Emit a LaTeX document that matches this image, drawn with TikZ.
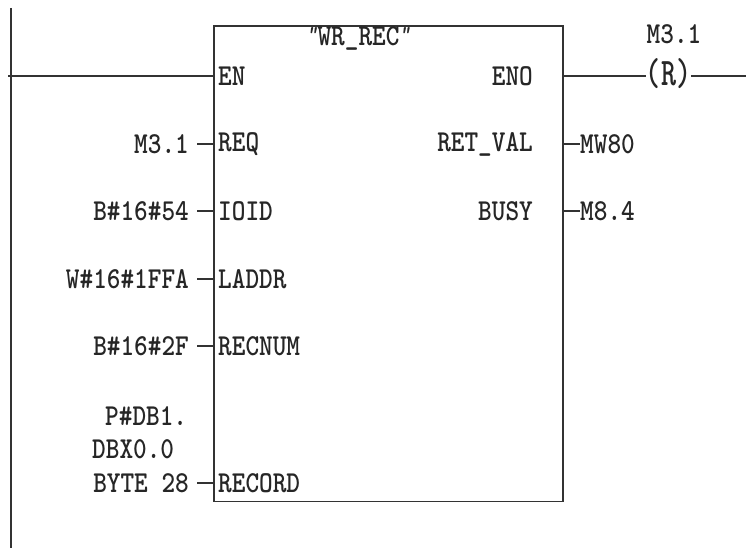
\documentclass[tikz,border=0pt]{standalone}
\usepackage{graphicx}
\newcommand{\tall}[1]{\scalebox{1}[1.17]{#1}}
\begin{document}
\begin{tikzpicture}[
        x=1pt, y=-1pt,
        wire/.style={line width=1.7pt, draw=black!80},
        lbl/.style={font=\ttfamily\bfseries\fontsize{26}{26}\selectfont, text=black!85, inner sep=0pt},
        inval/.style={lbl, anchor=east, inner xsep=8pt},
        pinin/.style={lbl, anchor=west, inner xsep=5pt},
        pinout/.style={lbl, anchor=east, inner xsep=29pt},
        outval/.style={lbl, anchor=west}
      ]
      \useasboundingbox (0,0) rectangle (746,548);

      \node[wire, draw, minimum width=349pt, minimum height=475pt, inner sep=0pt, anchor=north west] (wrrec) at (213,25.5) {};
      \node[lbl] (title) at (358.5,38) {\raisebox{5pt}{\fontsize{21}{21}\selectfont\itshape"}\tall{WR\_REC}\raisebox{5pt}{\fontsize{21}{21}\selectfont\itshape"}};

      \coordinate (railtop) at (10.5,8);
      \coordinate (railbot) at (10.5,548);
      \coordinate (enstart) at (8,76);
      \coordinate (linkend) at (746,76);

      \node[pinin] (en)     at (213, 76) {\tall{EN}};
      \node[pinin] (req)    at (213,144) {\tall{REQ}};
      \node[pinin] (ioid)   at (213,211) {\tall{IOID}};
      \node[pinin] (laddr)  at (213,279) {\tall{LADDR}};
      \node[pinin] (recnum) at (213,346) {\tall{RECNUM}};
      \node[pinin] (record) at (213,483) {\tall{RECORD}};

      \node[pinout] (eno)    at (562, 76) {\tall{ENO}};
      \node[pinout] (retval) at (562,144) {\tall{RET\_VAL}};
      \node[pinout] (busy)   at (562,211) {\tall{BUSY}};

      \node[inval] (reqval)    at (197,144) {\tall{M3.1}};
      \node[inval] (ioidval)   at (197,211) {\tall{B\#16\#54}};
      \node[inval] (laddrval)  at (197,279) {\tall{W\#16\#1FFA}};
      \node[inval] (recnumval) at (197,346) {\tall{B\#16\#2F}};
      \node[inval] (recordval) at (197,483) {\tall{BYTE 28}};
      \node[lbl, anchor=west] (recordtop) at (105,416) {\tall{P\#DB1.}};
      \node[lbl, anchor=west] (recordmid) at ( 92,449) {\tall{DBX0.0}};

      \node[outval] (retvalout) at (580,144) {\tall{MW80}};
      \node[outval] (busyout)   at (580,211) {\tall{M8.4}};

      \node[lbl] (coil) at (668.5,74) {\scalebox{1.1}[1.5]{(R)}};
      \node[lbl] (coiladdr) at (674,34) {\tall{M3.1}};

      \draw[wire, line width=2pt] (railtop) -- (railbot);
      \draw[wire] (enstart) -- (en.west);
      \draw[wire] (eno.east) -- (coil.west |- en);
      \draw[wire] (coil.east |- en) -- (linkend);

      \draw[wire] (reqval.east) -- (req.west);
      \draw[wire] (ioidval.east) -- (ioid.west);
      \draw[wire] (laddrval.east) -- (laddr.west);
      \draw[wire] (recnumval.east) -- (recnum.west);
      \draw[wire] (recordval.east) -- (record.west);
      \draw[wire] (retval.east) -- (retvalout.west);
      \draw[wire] (busy.east) -- (busyout.west);

    \end{tikzpicture}
\end{document}
